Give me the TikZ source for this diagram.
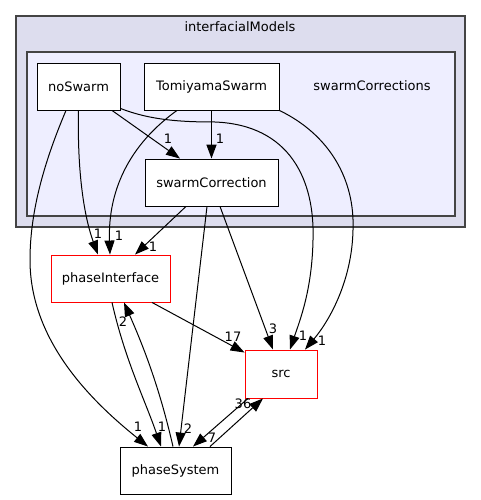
\documentclass[tikz,border=0pt]{standalone}
\usepackage{fontspec}
\setmainfont{DejaVu Sans}
\usetikzlibrary{arrows.meta}
\definecolor{clouter}{HTML}{DDDDEE}
\definecolor{clinner}{HTML}{EEEEFF}
\definecolor{clborder}{HTML}{444444}
\begin{document}
\begin{tikzpicture}[x=1pt,y=-1pt,
  font=\fontsize{13}{15}\selectfont,
  box/.style={draw=black, fill=white, line width=0.9pt, minimum width=#1, minimum height=47pt, inner sep=0pt},
  redbox/.style={box=#1, draw=red},
  edge/.style={line width=1pt, -{Triangle[length=14pt,width=10pt]}},
  lab/.style={inner sep=0pt},
  cluster/.style={draw=clborder, line width=1.4pt}]
\useasboundingbox (0,0) rectangle (481,500);
% clusters
\draw[cluster, fill=clouter] (16,16) rectangle (465,227);
\node[lab] (clab1) at (240,27) {interfacialModels};
\draw[cluster, fill=clinner] (27,52) rectangle (455,216);
\node[lab] (clab2) at (372,86) {swarmCorrections};
% nodes
\node[box=83pt] (noSwarm) at (78.5,86.5) {noSwarm};
\node[box=135pt] (tomi) at (211.5,86.5) {TomiyamaSwarm};
\node[box=133pt] (sc) at (211.5,182.5) {swarmCorrection};
\node[redbox=119pt] (pi) at (110.5,278.5) {phaseInterface};
\node[redbox=72pt, minimum height=48pt] (src) at (281,374) {src};
\node[box=111pt] (ps) at (175.5,470.5) {phaseSystem};
% edges
\draw[edge] ([xshift=33.5pt]noSwarm.south) -- ([xshift=-31.5pt]sc.north);
\draw[edge, line width=1.6pt, -{Triangle[length=14pt,width=10pt]}] (tomi.south) -- (sc.north);
\draw[edge] (noSwarm.south) .. controls (77,180) and (86,222) .. ([xshift=-12.5pt]pi.north);
\draw[edge] ([xshift=-34.5pt]tomi.south) .. controls (122,150) and (108,200) .. ([xshift=-0.5pt]pi.north);
\draw[edge] ([xshift=-25.5pt]sc.south) -- ([xshift=24.5pt]pi.north);
\draw[edge] ([xshift=-12.5pt]noSwarm.south) .. controls (45,160) and (30,210) .. (30,260)
  .. controls (30,340) and (90,400) .. ([xshift=-27.5pt]ps.north);
\draw[edge] ([yshift=2pt]noSwarm.south east) .. controls (150,120) and (180,122) .. (215,122)
  .. controls (290,125) and (315,180) .. (313,240)
  .. controls (312,290) and (300,320) .. ([xshift=9pt]src.north);
\draw[edge] (tomi.south east) .. controls (330,135) and (355,180) .. (353,230)
  .. controls (352,280) and (330,320) .. ([xshift=24pt]src.north);
\draw[edge] ([xshift=8.5pt]sc.south) -- ([xshift=-8pt]src.north);
\draw[edge] ([xshift=-4.5pt]sc.south) -- ([xshift=3.5pt]ps.north);
\draw[edge] ([xshift=41.5pt]pi.south) -- ([yshift=-3pt]src.north west);
\draw[edge] ([xshift=1.5pt]pi.south) .. controls (125,360) and (145,400) .. ([xshift=-14.5pt]ps.north);
\draw[edge] ([xshift=-2.5pt]ps.north) .. controls (160,390) and (145,350) .. ([xshift=13.5pt]pi.south);
\draw[edge] ([xshift=-33pt]src.south) -- ([xshift=17.5pt]ps.north);
\draw[edge] ([xshift=34.5pt]ps.north) -- ([xshift=-18pt]src.south);
% labels
\node[lab] (l1) at (168,139) {1};
\node[lab] (l2) at (220,139) {1};
\node[lab] (l3) at (98,234) {1};
\node[lab] (l4) at (119,236) {1};
\node[lab] (l5) at (153,247) {1};
\node[lab] (l6) at (123,322) {2};
\node[lab] (l7) at (233,337) {17};
\node[lab] (l8) at (273,329) {3};
\node[lab] (l9) at (303,336) {1};
\node[lab] (l10) at (322,341) {1};
\node[lab] (l11) at (138,427) {1};
\node[lab] (l12) at (162,427) {1};
\node[lab] (l13) at (188,429) {2};
\node[lab] (l14) at (243,404) {36};
\node[lab] (l15) at (212,438) {7};
\end{tikzpicture}
\end{document}
